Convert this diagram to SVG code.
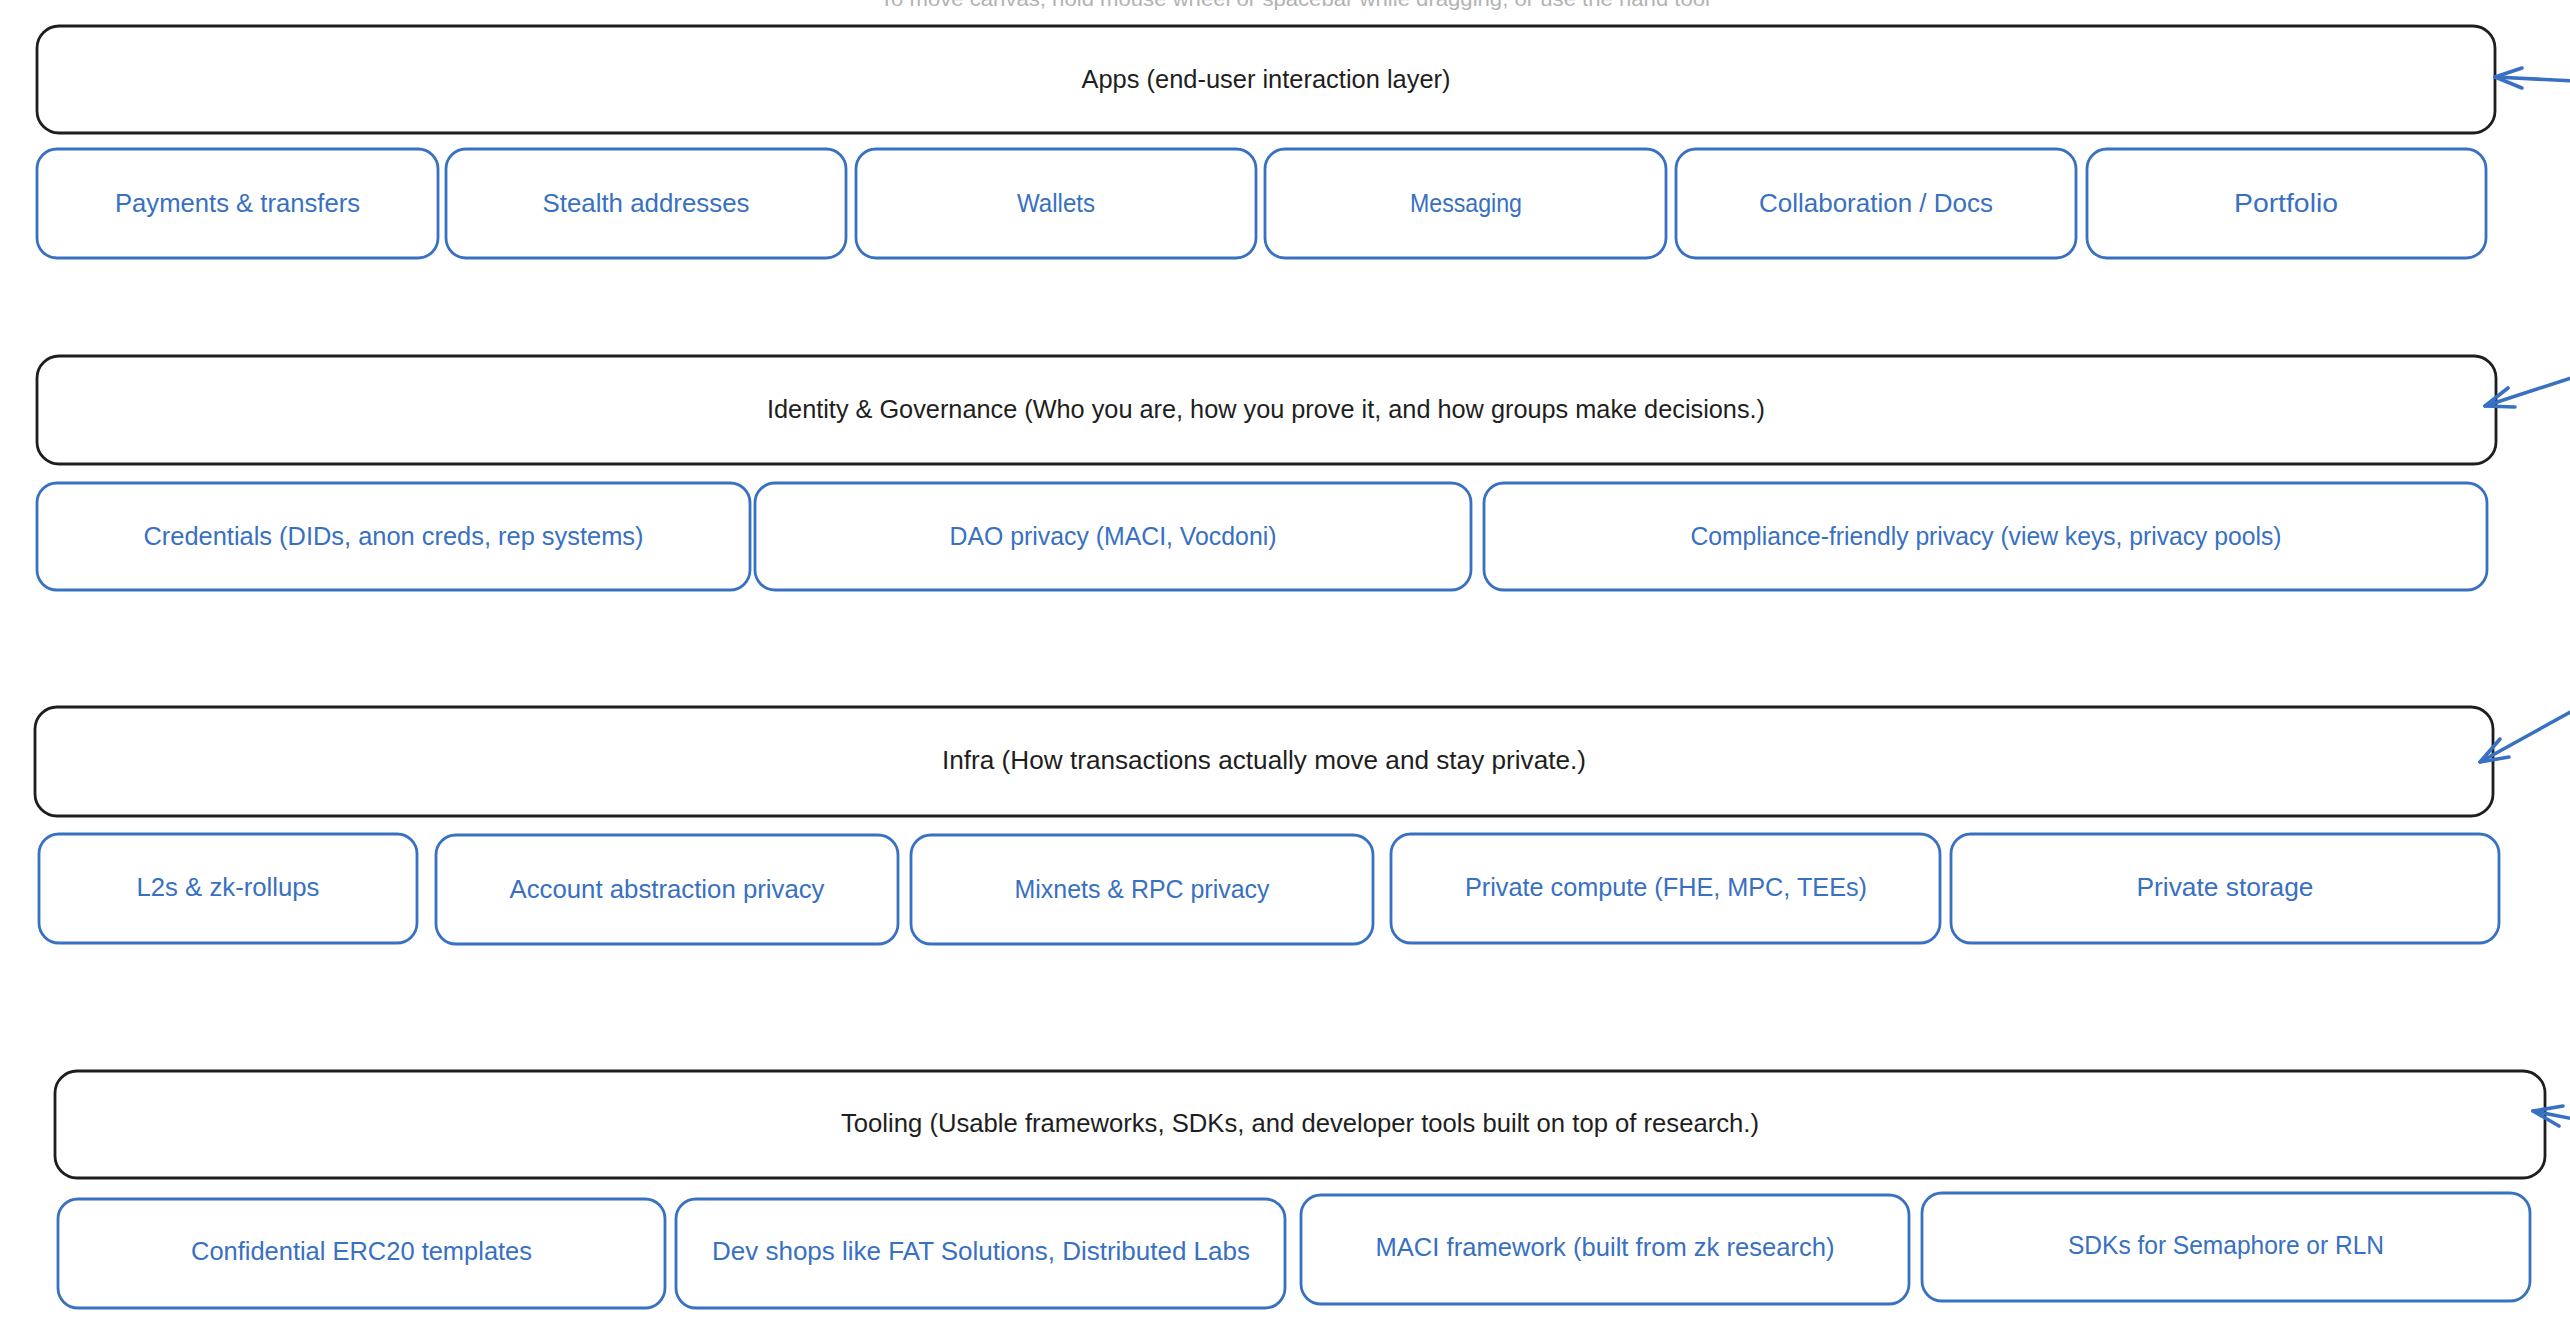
<svg xmlns="http://www.w3.org/2000/svg" width="2570" height="1326" viewBox="0 0 2570 1326">
<style>
.bg{fill:#ffffff}
.hdr rect{fill:#ffffff;stroke:#1e1e1e;stroke-width:2.8}
.hdr text{fill:#1e1e1e}
.itm rect{fill:#ffffff;stroke:#3870c2;stroke-width:2.8}
.itm text{fill:#3870c2}
text{font-family:"Liberation Sans",Arial,sans-serif;font-size:25px;text-anchor:middle}
.hint{fill:#b3b3b3;font-size:20px}
.conn path{fill:none;stroke:#3870c2;stroke-width:3.6;stroke-linecap:round;stroke-linejoin:round}
</style>
<rect class="bg" x="0" y="0" width="2570" height="1326"/>
<text class="hint" x="1295" y="6" textLength="830" lengthAdjust="spacingAndGlyphs">To move canvas, hold mouse wheel or spacebar while dragging, or use the hand tool</text>

<g id="apps" class="hdr"><rect x="37" y="26" width="2458" height="107" rx="22"/><text x="1266" y="88" textLength="369" lengthAdjust="spacingAndGlyphs">Apps (end-user interaction layer)</text></g>
<g id="payments" class="itm"><rect x="37" y="149" width="401" height="109" rx="20"/><text x="237.5" y="212" textLength="245" lengthAdjust="spacingAndGlyphs">Payments &amp; transfers</text></g>
<g id="stealth" class="itm"><rect x="446" y="149" width="400" height="109" rx="20"/><text x="646" y="212" textLength="207" lengthAdjust="spacingAndGlyphs">Stealth addresses</text></g>
<g id="wallets" class="itm"><rect x="856" y="149" width="400" height="109" rx="20"/><text x="1056" y="212" textLength="78" lengthAdjust="spacingAndGlyphs">Wallets</text></g>
<g id="messaging" class="itm"><rect x="1265" y="149" width="401" height="109" rx="20"/><text x="1466" y="212" textLength="112" lengthAdjust="spacingAndGlyphs">Messaging</text></g>
<g id="collab" class="itm"><rect x="1676" y="149" width="400" height="109" rx="20"/><text x="1876" y="212" textLength="234" lengthAdjust="spacingAndGlyphs">Collaboration / Docs</text></g>
<g id="portfolio" class="itm"><rect x="2087" y="149" width="399" height="109" rx="20"/><text x="2286" y="212" textLength="104" lengthAdjust="spacingAndGlyphs">Portfolio</text></g>

<g id="identity" class="hdr"><rect x="37" y="356" width="2459" height="108" rx="22"/><text x="1266" y="418" textLength="998" lengthAdjust="spacingAndGlyphs">Identity &amp; Governance (Who you are, how you prove it, and how groups make decisions.)</text></g>
<g id="credentials" class="itm"><rect x="37" y="483" width="713" height="107" rx="20"/><text x="393.5" y="545" textLength="500" lengthAdjust="spacingAndGlyphs">Credentials (DIDs, anon creds, rep systems)</text></g>
<g id="dao" class="itm"><rect x="755" y="483" width="716" height="107" rx="20"/><text x="1113" y="545" textLength="327" lengthAdjust="spacingAndGlyphs">DAO privacy (MACI, Vocdoni)</text></g>
<g id="compliance" class="itm"><rect x="1484" y="483" width="1003" height="107" rx="20"/><text x="1986" y="545" textLength="591" lengthAdjust="spacingAndGlyphs">Compliance-friendly privacy (view keys, privacy pools)</text></g>

<g id="infra" class="hdr"><rect x="35" y="707" width="2458" height="109" rx="22"/><text x="1264" y="769" textLength="644" lengthAdjust="spacingAndGlyphs">Infra (How transactions actually move and stay private.)</text></g>
<g id="l2s" class="itm"><rect x="39" y="834" width="378" height="109" rx="20"/><text x="228" y="896" textLength="183" lengthAdjust="spacingAndGlyphs">L2s &amp; zk-rollups</text></g>
<g id="account" class="itm"><rect x="436" y="835" width="462" height="109" rx="20"/><text x="667" y="898" textLength="315" lengthAdjust="spacingAndGlyphs">Account abstraction privacy</text></g>
<g id="mixnets" class="itm"><rect x="911" y="835" width="462" height="109" rx="20"/><text x="1142" y="898" textLength="255" lengthAdjust="spacingAndGlyphs">Mixnets &amp; RPC privacy</text></g>
<g id="compute" class="itm"><rect x="1391" y="834" width="549" height="109" rx="20"/><text x="1666" y="896" textLength="402" lengthAdjust="spacingAndGlyphs">Private compute (FHE, MPC, TEEs)</text></g>
<g id="storage" class="itm"><rect x="1951" y="834" width="548" height="109" rx="20"/><text x="2225" y="896" textLength="177" lengthAdjust="spacingAndGlyphs">Private storage</text></g>

<g id="tooling" class="hdr"><rect x="55" y="1071" width="2490" height="107" rx="22"/><text x="1300" y="1132" textLength="918" lengthAdjust="spacingAndGlyphs">Tooling (Usable frameworks, SDKs, and developer tools built on top of research.)</text></g>
<g id="erc20" class="itm"><rect x="58" y="1199" width="607" height="109" rx="20"/><text x="361.5" y="1260" textLength="341" lengthAdjust="spacingAndGlyphs">Confidential ERC20 templates</text></g>
<g id="devshops" class="itm"><rect x="676" y="1199" width="609" height="109" rx="20"/><text x="981" y="1260" textLength="538" lengthAdjust="spacingAndGlyphs">Dev shops like FAT Solutions, Distributed Labs</text></g>
<g id="maci" class="itm"><rect x="1301" y="1195" width="608" height="109" rx="20"/><text x="1605" y="1256" textLength="459" lengthAdjust="spacingAndGlyphs">MACI framework (built from zk research)</text></g>
<g id="sdks" class="itm"><rect x="1922" y="1193" width="608" height="108" rx="20"/><text x="2226" y="1254" textLength="316" lengthAdjust="spacingAndGlyphs">SDKs for Semaphore or RLN</text></g>

<g id="connectors" class="conn">
<path d="M2574 81 L2495 77"/><path d="M2522 68 L2495 77 L2522 88"/>
<path d="M2574 377 L2485 406"/><path d="M2508 388 L2485 406 L2515 407"/>
<path d="M2574 710 L2480 762"/><path d="M2500 739 L2480 762 L2509 757"/>
<path d="M2574 1119 L2533 1111"/><path d="M2563 1106 L2533 1111 L2559 1126"/>
</g>
</svg>
